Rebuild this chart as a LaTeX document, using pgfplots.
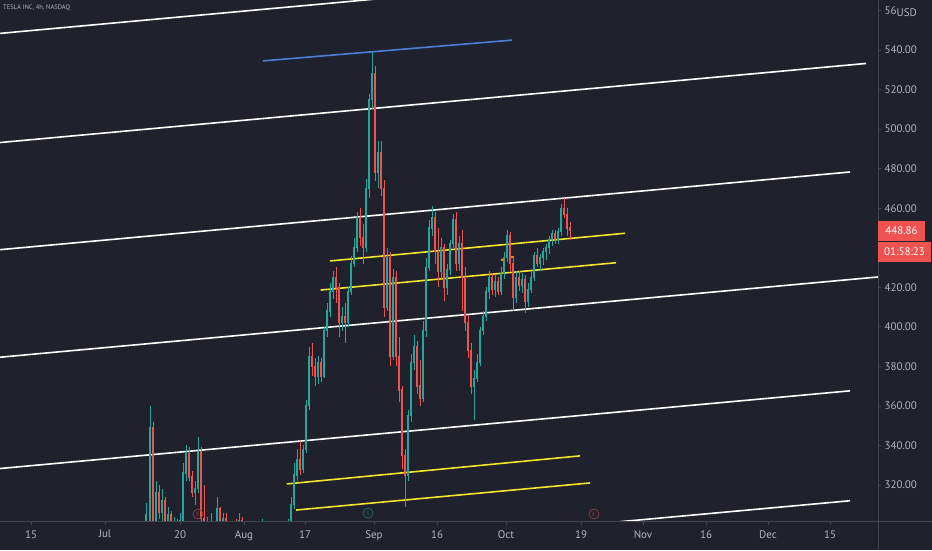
\documentclass[border=0pt]{standalone}
\usepackage{fontspec}
\setmainfont{PT Sans}
\usepackage{pgfplots}
\pgfplotsset{compat=1.18}
\usepackage{pgfplotstable}

\definecolor{bg}{HTML}{1F222D}
\definecolor{up}{HTML}{26A69A}
\definecolor{dn}{HTML}{EF5350}
\definecolor{txt}{HTML}{B2B5BE}
\definecolor{sep}{HTML}{434651}
\definecolor{ylw}{HTML}{F2E52C}
\definecolor{blu}{HTML}{4A7FD8}

% x = position on the time scale, o h l c = price
\pgfplotstableread{
x o h l c
143 292 300 286 297
146 297 311 294 305
150 302 360 300 349
153 349 352 296 300
156 300 322 296 316
159 316 320 303 306
162 306 318 298 312
165 312 314 296 300
168 300 309 294 305
171 305 307 292 296
174 296 304 290 300
177 300 303 292 295
180 295 306 290 302
183 302 331 300 326
186 326 340 322 336
189 336 339 322 324
192 324 327 314 316
195 316 322 310 318
198 318 344 316 337
201 337 339 300 303
204 303 320 295 298
207 298 304 290 300
211 300 306 292 295
214 295 300 288 293
217 293 314 290 308
220 308 309 296 298
223 298 306 294 303
226 303 306 296 298
229 298 302 290 295
232 295 300 290 297
236 297 303 292 294
239 294 306 292 302
242 302 304 294 296
246 296 300 290 292
250 292 298 288 296
254 296 299 289 291
258 291 296 287 293
262 293 303 290 299
266 299 301 291 293
270 293 298 288 295
274 295 297 289 291
278 291 296 286 293
282 293 295 287 289
285 289 298 287 295
288 295 303 290 300
291 300 314 298 310
294 310 331 308 325
297 325 338 322 333
300 333 342 325 328
303 328 340 326 338
306 338 363 336 360
309 360 390 358 385
312 385 392 375 380
315 380 384 370 375
318 375 385 371 382
321 382 384 372 375
324 375 400 374 398
327 398 412 395 408
330 408 422 405 418
333 418 428 414 425
336 425 430 412 420
339 420 422 395 402
342 402 410 398 405
345 405 412 392 402
348 402 420 400 418
351 418 436 416 432
354 432 445 430 440
357 440 458 438 455
360 455 460 441 445
363 445 452 432 440
366 440 475 438 470
369 470 518 465 515
372 515 539 510 528
375 528 532 474 478
378 478 494 470 488
381 488 494 466 470
384 470 474 405 410
387 410 440 408 435
390 435 438 380 385
393 385 429 383 425
396 425 428 380 385
399 385 395 362 368
402 368 370 328 335
405 335 338 309 325
408 325 358 322 355
411 355 386 352 382
414 382 396 378 390
417 390 393 366 370
420 370 383 360 364
423 364 403 362 398
426 398 435 395 430
429 430 454 428 450
432 450 461 446 455
435 455 458 432 438
438 438 450 420 428
441 428 445 424 440
444 440 442 413 420
447 420 432 416 429
450 429 444 426 442
453 442 457 440 454
456 454 458 428 432
459 432 446 428 442
462 442 449 408 425
465 425 430 398 402
468 402 406 384 388
471 388 392 366 370
474 370 378 353 374
477 374 386 372 382
480 382 400 380 398
483 398 408 396 405
486 405 420 403 418
489 418 428 414 425
492 425 427 416 419
495 419 426 415 423
498 423 425 416 418
501 418 430 416 427
504 427 438 424 435
507 435 449 433 446
510 446 448 428 432
513 432 436 408 415
516 415 428 412 425
519 425 428 418 421
522 421 427 417 424
525 424 426 407 413
528 413 422 410 419
531 419 428 417 425
534 425 438 423 436
537 436 440 430 432
540 432 437 428 435
543 435 440 431 438
546 438 442 434 440
549 440 446 437 444
552 444 449 441 447
555 447 449 442 444
558 444 450 442 448
561 448 462 446 460
564 460 465 455 457
567 457 460 446 450
570 450 453 444 448.86
}\candles

\begin{document}
\begin{tikzpicture}
\fill[bg] (0pt,-28.3pt) rectangle (932pt,521.7pt);
\begin{axis}[
  scale only axis, width=878pt, height=521.7pt,
  at={(0pt,0pt)}, anchor=south west,
  xmin=0, xmax=878, ymin=301.4, ymax=565.3,
  axis x line*=bottom, axis y line*=right,
  axis line style={draw=none},
  xtick={31,105,180,244,305,374,437,506,581,643,706,768,830},
  xticklabels={15,Jul,20,Aug,17,Sep,16,Oct,19,Nov,16,Dec,15},
  ytick={320,340,...,420,460,480,...,560},
  yticklabel style={/pgf/number format/.cd, fixed, fixed zerofill, precision=2, 1000 sep={}, assume math mode=true},
  tick label style={font=\fontsize{11}{13}\selectfont, text=txt},
  xticklabel style={yshift=-2pt},
  tick align=outside, major tick length=3pt,
  tick style={sep, line width=0.6pt},
  clip mode=individual,
]
% channel lines
\addplot[white, line width=1.6pt] coordinates {(0,548.4) (400,566.9)};
\addplot[white, line width=1.6pt] coordinates {(0,493.2) (866,533.2)};
\addplot[white, line width=1.6pt] coordinates {(0,439.0) (850,478.3)};
\addplot[white, line width=1.6pt] coordinates {(0,384.6) (878,425.2)};
\addplot[white, line width=1.6pt] coordinates {(0,328.3) (850,367.6)};
\addplot[white, line width=1.6pt] coordinates {(620,301.4) (850,312.0)};
% yellow and blue lines
\addplot[ylw, line width=1.6pt] coordinates {(330,433.3) (625,447.3)};
\addplot[ylw, line width=1.6pt] coordinates {(320.7,418.6) (616,432.4)};
\addplot[ylw, line width=1.6pt] coordinates {(286.7,320.5) (580,334.7)};
\addplot[ylw, line width=1.6pt] coordinates {(296,307.3) (590,321.0)};
\addplot[blu, line width=1.6pt] coordinates {(263,534.5) (512,545.0)};

% candles: wicks then bodies
\addplot[draw=none, mark=none,
  restrict expr to domain={\thisrow{c}-\thisrow{o}}{0:1000},
  error bars/.cd, y dir=both, y explicit, error mark=none,
  error bar style={draw=up, line width=0.8pt}]
  table[x=x, y expr={(\thisrow{h}+\thisrow{l})/2}, y error expr={(\thisrow{h}-\thisrow{l})/2}] {\candles};
\addplot[draw=none, mark=none,
  restrict expr to domain={\thisrow{c}-\thisrow{o}}{-1000:-0.001},
  error bars/.cd, y dir=both, y explicit, error mark=none,
  error bar style={draw=dn, line width=0.8pt}]
  table[x=x, y expr={(\thisrow{h}+\thisrow{l})/2}, y error expr={(\thisrow{h}-\thisrow{l})/2}] {\candles};
\addplot[draw=none, mark=none,
  restrict expr to domain={\thisrow{c}-\thisrow{o}}{0:1000},
  error bars/.cd, y dir=both, y explicit, error mark=none,
  error bar style={draw=up, line width=2.2pt}]
  table[x=x, y expr={(\thisrow{o}+\thisrow{c})/2}, y error expr={abs(\thisrow{c}-\thisrow{o})/2+0.3}] {\candles};
\addplot[draw=none, mark=none,
  restrict expr to domain={\thisrow{c}-\thisrow{o}}{-1000:-0.001},
  error bars/.cd, y dir=both, y explicit, error mark=none,
  error bar style={draw=dn, line width=2.2pt}]
  table[x=x, y expr={(\thisrow{o}+\thisrow{c})/2}, y error expr={abs(\thisrow{c}-\thisrow{o})/2+0.3}] {\candles};

% small markers
\addplot[only marks, mark=*, mark size=1.2pt, color=orange!80!yellow] coordinates {(502,433.8) (512,435.3)};

% event circles
\node[circle, draw=dn!55!bg, line width=0.7pt, inner sep=0pt, minimum size=10pt,
  font=\fontsize{6}{6}\selectfont, text=dn!55!bg] at (axis cs:198,305.3) {E};
\node[circle, draw=up!55!bg, line width=0.7pt, inner sep=0pt, minimum size=10pt,
  font=\fontsize{6}{6}\selectfont, text=up!55!bg] at (axis cs:368,305.7) {S};
\node[circle, draw=dn!55!bg, line width=0.7pt, inner sep=0pt, minimum size=10pt,
  font=\fontsize{6}{6}\selectfont, text=dn!55!bg] at (axis cs:594,305.3) {E};
\end{axis}

% scale separators
\draw[sep, line width=0.8pt] (0pt,0pt) -- (932pt,0pt);
\draw[sep, line width=0.8pt] (878pt,-28.3pt) -- (878pt,521.7pt);

% last price and countdown
\fill[dn] (878pt,280.7pt) rectangle (925pt,300.7pt);
\node[text=white, inner sep=0pt, font=\fontsize{11}{13}\selectfont] at (901.5pt,290.7pt) {448.86};
\fill[dn] (878pt,259.7pt) rectangle (931pt,279.7pt);
\node[text=white, inner sep=0pt, font=\fontsize{11}{13}\selectfont] at (904.5pt,269.7pt) {01:58:23};

% axis title with the cut top label behind it
\fill[bg] (896pt,500pt) rectangle (932pt,518pt);
\node[anchor=west, text=txt, inner sep=0pt, font=\fontsize{11}{13}\selectfont] at (896.5pt,508.7pt) {USD};
\node[anchor=west, text=txt, inner sep=0pt, font=\fontsize{6.5}{7}\selectfont] at (3pt,514.4pt) {TESLA INC, 4h, NASDAQ};

\pgfresetboundingbox
\path[use as bounding box] (0pt,-28.3pt) rectangle (932pt,521.7pt);
\end{tikzpicture}
\end{document}
